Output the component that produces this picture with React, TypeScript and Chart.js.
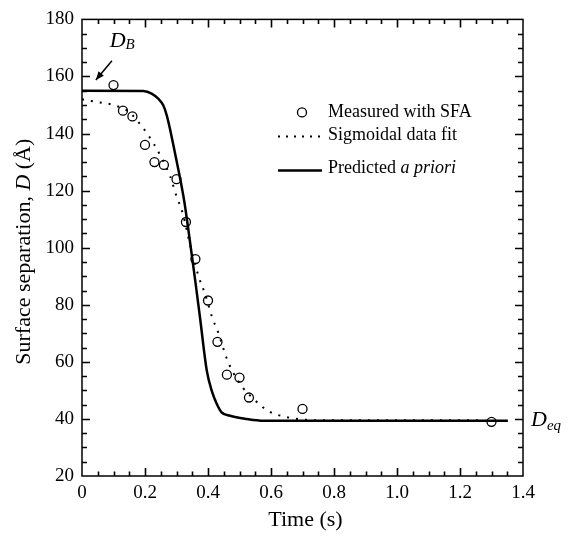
import React, { useEffect, useRef } from "react";
import { Chart, registerables } from "chart.js";

Chart.register(...registerables);

// ---- Data ----
const measuredTime = [0.1, 0.13, 0.16, 0.2, 0.23, 0.26, 0.3, 0.33, 0.36, 0.4, 0.43, 0.46, 0.5, 0.53, 0.7, 1.3];
const measuredD = [157, 148, 146, 136, 130, 129, 124, 109, 96, 81.5, 67, 55.5, 54.5, 47.5, 43.5, 39];

const fitTime = [0, 0.05, 0.1, 0.15, 0.19, 0.21, 0.23, 0.25, 0.28, 0.3, 0.32, 0.345, 0.37, 0.39, 0.415, 0.43, 0.46, 0.475, 0.51, 0.545, 0.575, 0.605, 0.64, 0.67, 0.73, 0.8, 1.28];
const fitD = [152, 151, 150, 147.5, 142.5, 139.5, 136, 132, 125, 118, 112, 100, 90, 84, 75, 71, 61, 57.3, 51, 47, 44, 42, 40.9, 40.2, 39.6, 39.5, 39.5];

const predTime = [0, 0.195, 0.221, 0.242, 0.258, 0.269, 0.279, 0.29, 0.301, 0.311, 0.325, 0.343, 0.36, 0.375, 0.396, 0.412, 0.428, 0.443, 0.47, 0.523, 0.576, 1.352];
const predD = [155, 154.9, 154, 152.2, 149.9, 146.4, 141.8, 136, 130, 124.5, 116, 102, 88, 75.2, 57, 49.8, 45.2, 42.3, 41.1, 40, 39.4, 39.4];

const xTickValues = [0, 0.2, 0.4, 0.6, 0.8, 1.0, 1.2, 1.4];
const yTickValues = [20, 40, 60, 80, 100, 120, 140, 160, 180];

const legendLabels = ["Measured with SFA", "Sigmoidal data fit", "Predicted "];
const legendItalic = "a priori";
const xTitle = "Time (s)";
const yTitleParts = ["Surface separation, ", "D", " (Å)"];

const SERIF = '"Liberation Serif", "Times New Roman", serif';

const frameTicksPlugin = {
  id: "frameTicks",
  afterDraw(chart: any) {
    const { ctx, chartArea: a, scales } = chart;
    const x = scales.x;
    const y = scales.y;
    ctx.save();
    ctx.strokeStyle = "#000";
    ctx.lineWidth = 1.5;
    ctx.strokeRect(a.left, a.top, a.right - a.left, a.bottom - a.top);
    ctx.lineWidth = 1.6;
    for (let i = 1; i < 28; i++) {
      const v = i * 0.05;
      const px = Math.round(x.getPixelForValue(v)) + 0.5;
      const len = i % 4 === 0 ? 8 : 4.5;
      ctx.beginPath();
      ctx.moveTo(px, a.bottom);
      ctx.lineTo(px, a.bottom - len);
      ctx.moveTo(px, a.top);
      ctx.lineTo(px, a.top + len);
      ctx.stroke();
    }
    for (let i = 1; i < 32; i++) {
      const v = 20 + i * 5;
      const py = Math.round(y.getPixelForValue(v)) + 0.5;
      const len = i % 4 === 0 ? 8 : 5;
      ctx.beginPath();
      ctx.moveTo(a.left, py);
      ctx.lineTo(a.left + len, py);
      ctx.moveTo(a.right, py);
      ctx.lineTo(a.right - len, py);
      ctx.stroke();
    }
    ctx.restore();
  },
};

const decorPlugin = {
  id: "decor",
  afterDraw(chart: any) {
    const { ctx, chartArea: a, scales } = chart;
    const x = scales.x;
    const y = scales.y;
    ctx.save();
    ctx.fillStyle = "#000";
    ctx.strokeStyle = "#000";
    ctx.textBaseline = "middle";

    // ---- Legend ----
    const lx = a.left + 196;
    const tx = a.left + 246;
    ctx.font = `18px ${SERIF}`;
    ctx.textAlign = "left";
    ctx.lineWidth = 1.3;
    ctx.beginPath();
    ctx.arc(a.left + 220, a.top + 93, 4.5, 0, Math.PI * 2);
    ctx.stroke();
    ctx.fillText(legendLabels[0], tx, a.top + 93);
    ctx.lineWidth = 2;
    ctx.setLineDash([2, 6]);
    ctx.beginPath();
    ctx.moveTo(lx, a.top + 117);
    ctx.lineTo(lx + 44, a.top + 117);
    ctx.stroke();
    ctx.setLineDash([]);
    ctx.fillText(legendLabels[1], tx, a.top + 116);
    ctx.lineWidth = 2.5;
    ctx.beginPath();
    ctx.moveTo(lx, a.top + 151);
    ctx.lineTo(lx + 44, a.top + 151);
    ctx.stroke();
    ctx.fillText(legendLabels[2], tx, a.top + 149);
    const w = ctx.measureText(legendLabels[2]).width;
    ctx.font = `italic 18px ${SERIF}`;
    ctx.fillText(legendItalic, tx + w, a.top + 149);

    // ---- D_B annotation ----
    const hx = x.getPixelForValue(0.044);
    const hy = y.getPixelForValue(158.8);
    const tx0 = x.getPixelForValue(0.095);
    const ty0 = y.getPixelForValue(165.5);
    ctx.lineWidth = 1.5;
    ctx.beginPath();
    ctx.moveTo(tx0, ty0);
    ctx.lineTo(hx, hy);
    ctx.stroke();
    const ang = Math.atan2(hy - ty0, hx - tx0);
    const hl = 9;
    ctx.beginPath();
    ctx.moveTo(hx, hy);
    ctx.lineTo(hx - hl * Math.cos(ang - 0.4), hy - hl * Math.sin(ang - 0.4));
    ctx.lineTo(hx - hl * Math.cos(ang + 0.4), hy - hl * Math.sin(ang + 0.4));
    ctx.closePath();
    ctx.fill();
    const dbx = x.getPixelForValue(0.088);
    const dby = y.getPixelForValue(172.5);
    ctx.font = `italic 22px ${SERIF}`;
    ctx.fillText("D", dbx, dby);
    const dw = ctx.measureText("D").width;
    ctx.font = `italic 15px ${SERIF}`;
    ctx.fillText("B", dbx + dw, dby + 4);

    // ---- D_eq annotation ----
    const eqx = a.right + 8;
    const eqy = y.getPixelForValue(39.5);
    ctx.font = `italic 22px ${SERIF}`;
    ctx.fillText("D", eqx, eqy);
    const dw2 = ctx.measureText("D").width;
    ctx.font = `italic 15px ${SERIF}`;
    ctx.fillText("eq", eqx + dw2, eqy + 6);

    // ---- Axis titles ----
    ctx.font = `22px ${SERIF}`;
    ctx.textAlign = "center";
    ctx.fillText(xTitle, (a.left + a.right) / 2 + 3, a.bottom + 44);

    ctx.translate(24, (a.top + a.bottom) / 2 + 4);
    ctx.rotate(-Math.PI / 2);
    ctx.textAlign = "left";
    const fonts = [`22px ${SERIF}`, `italic 22px ${SERIF}`, `22px ${SERIF}`];
    let total = 0;
    const widths: number[] = [];
    yTitleParts.forEach((p, i) => {
      ctx.font = fonts[i];
      const ww = ctx.measureText(p).width;
      widths.push(ww);
      total += ww;
    });
    let cx = -total / 2;
    yTitleParts.forEach((p, i) => {
      ctx.font = fonts[i];
      ctx.fillText(p, cx, 0);
      cx += widths[i];
    });
    ctx.restore();
  },
};

export default function App() {
  const ref = useRef<HTMLCanvasElement | null>(null);
  useEffect(() => {
    if (!ref.current) return;
    const chart = new Chart(ref.current, {
      type: "scatter",
      data: {
        datasets: [
          {
            label: "Measured with SFA",
            data: measuredTime.map((t, i) => ({ x: t, y: measuredD[i] })),
            showLine: false,
            pointStyle: "circle",
            pointRadius: 4.5,
            pointBorderWidth: 1.3,
            pointBorderColor: "#000",
            pointBackgroundColor: "rgba(0,0,0,0)",
            order: 0,
          },
          {
            label: "Sigmoidal data fit",
            data: fitTime.map((t, i) => ({ x: t, y: fitD[i] })),
            showLine: true,
            borderColor: "#000",
            borderWidth: 2,
            borderDash: [2, 7],
            pointRadius: 0,
            cubicInterpolationMode: "monotone",
            order: 2,
          },
          {
            label: "Predicted a priori",
            data: predTime.map((t, i) => ({ x: t, y: predD[i] })),
            showLine: true,
            borderColor: "#000",
            borderWidth: 2.5,
            pointRadius: 0,
            cubicInterpolationMode: "monotone",
            order: 1,
          },
        ] as any,
      },
      options: {
        animation: false,
        responsive: false,
        layout: { padding: { left: 0, top: 15, right: 46, bottom: 0 } },
        plugins: { legend: { display: false }, tooltip: { enabled: false } },
        scales: {
          x: {
            type: "linear",
            min: 0,
            max: 1.4,
            afterFit: (s: any) => {
              s.height = 61;
            },
            afterBuildTicks: (s: any) => {
              s.ticks = xTickValues.map((v) => ({ value: v }));
            },
            grid: { display: false, drawTicks: false },
            border: { display: false },
            ticks: {
              padding: 6,
              color: "#000",
              font: { family: SERIF, size: 19 },
              maxRotation: 0,
              callback: (v: any) => (Number(v) === 0 ? "0" : Number(v).toFixed(1)),
            },
          },
          y: {
            type: "linear",
            min: 20,
            max: 180,
            afterFit: (s: any) => {
              s.width = 82;
            },
            afterBuildTicks: (s: any) => {
              s.ticks = yTickValues.map((v) => ({ value: v }));
            },
            grid: { display: false, drawTicks: false },
            border: { display: false },
            ticks: {
              padding: 8,
              color: "#000",
              font: { family: SERIF, size: 19 },
              callback: (v: any) => String(v),
            },
          },
        },
      },
      plugins: [frameTicksPlugin, decorPlugin],
    });
    return () => chart.destroy();
  }, []);
  return (
    <div style={{ position: "fixed", left: 0, top: 0, width: 569, height: 537, background: "#fff" }}>
      <canvas ref={ref} width={569} height={537} style={{ display: "block" }} />
    </div>
  );
}
